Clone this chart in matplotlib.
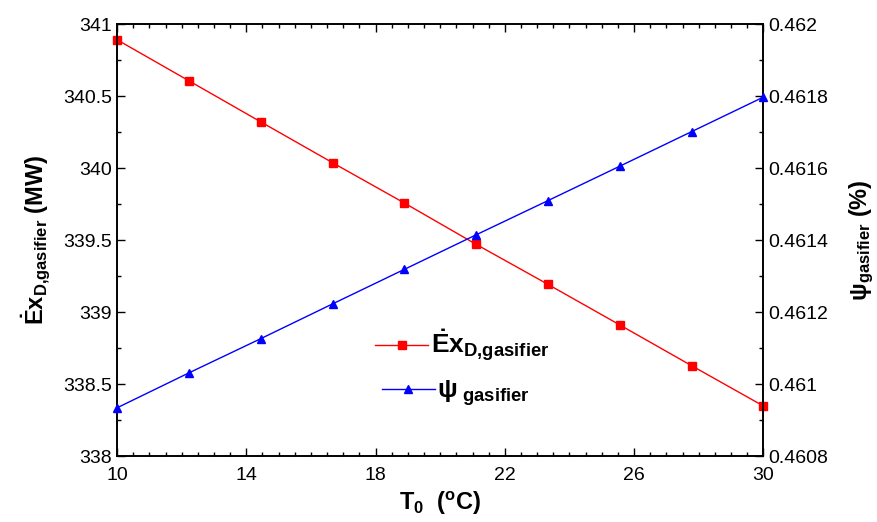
import matplotlib
matplotlib.use("Agg")
import matplotlib.pyplot as plt
from matplotlib.ticker import MultipleLocator
from matplotlib.lines import Line2D

plt.rcParams['font.family'] = ['Liberation Sans', 'DejaVu Sans']
plt.rcParams['mathtext.fontset'] = 'custom'
plt.rcParams['mathtext.rm'] = 'Liberation Sans'
plt.rcParams['mathtext.bf'] = 'Liberation Sans:bold'
plt.rcParams['mathtext.it'] = 'Liberation Sans:italic'

T0 = [10, 12.22, 14.44, 16.67, 18.89, 21.11, 23.33, 25.56, 27.78, 30]
ex_d = [340.894, 340.609, 340.324, 340.039, 339.759, 339.472, 339.194, 338.911, 338.628, 338.348]
psi = [0.460934, 0.461031, 0.461126, 0.461223, 0.461319, 0.461415, 0.461510, 0.461606, 0.461702, 0.461798]
xticks = [10, 14, 18, 22, 26, 30]

fig = plt.figure(figsize=(8.78, 5.22), dpi=100)
ax = fig.add_axes([0.1333, 0.1264, 0.7361, 0.8267])
ax2 = ax.twinx()

ax.plot(T0, ex_d, color='red', marker='s', markersize=6, linewidth=1, clip_on=False, zorder=3)
ax2.plot(T0, psi, color='blue', marker='^', markersize=6, linewidth=1, clip_on=False, zorder=3)

ax.set_xlim(10, 30)
ax.set_ylim(338, 341)
ax2.set_ylim(0.4608, 0.4620)
ax.set_xticks(xticks)
ax.xaxis.set_minor_locator(MultipleLocator(0.5))
ax.yaxis.set_major_locator(MultipleLocator(0.5))
ax.yaxis.set_minor_locator(MultipleLocator(0.25))
ax.yaxis.set_major_formatter(plt.FuncFormatter(lambda v, p: f"{v:g}"))
ax2.yaxis.set_major_locator(MultipleLocator(0.0002))
ax2.yaxis.set_minor_locator(MultipleLocator(0.0001))
ax2.yaxis.set_major_formatter(plt.FuncFormatter(lambda v, p: f"{round(v, 6):g}"))

ax.tick_params(axis='both', which='both', direction='in', labelsize=14, width=1)
ax.tick_params(axis='x', which='both', top=True)
ax.tick_params(axis='y', which='both', right=False)
ax.tick_params(which='major', length=6)
ax.tick_params(which='minor', length=3)
ax2.tick_params(axis='y', which='both', direction='in', labelsize=14, width=1)
ax2.tick_params(which='major', length=6)
ax2.tick_params(which='minor', length=3)
ax.tick_params(axis='x', pad=8)

for a in (ax, ax2):
    for s in a.spines.values():
        s.set_linewidth(1.2)

ax.set_xlabel(r'$\mathbf{T_0}$  $\mathbf{(^oC)}$', fontsize=17, labelpad=4)
ax.set_ylabel(r'$\mathbf{\dot{E}x_{D{,}gasifier}}$ $\mathbf{(MW)}$', fontsize=17, labelpad=8)
ax2.set_ylabel(r'$\mathbf{\psi_{gasifier}}$ $\mathbf{(\%)}$', fontsize=17, labelpad=14)

h1 = Line2D([], [], color='red', marker='s', markersize=6, linewidth=1)
h2 = Line2D([], [], color='blue', marker='^', markersize=6, linewidth=1)
leg1 = ax.legend([h1], [r'$\mathbf{\dot{E}x_{D{,}gasifier}}$'], loc='center left',
                 bbox_to_anchor=(0.3995, 0.255), frameon=False, prop={'size': 19},
                 handlelength=2.0, handletextpad=0.1, borderpad=0, borderaxespad=0)
ax.add_artist(leg1)
leg2 = ax.legend([h2], [r'$\mathbf{\psi_{\ gasifier}}$'], loc='center left',
                 bbox_to_anchor=(0.41, 0.145), frameon=False, prop={'size': 19},
                 handlelength=2.0, handletextpad=0.1, borderpad=0, borderaxespad=0)

fig.savefig('out.png', dpi=100)
